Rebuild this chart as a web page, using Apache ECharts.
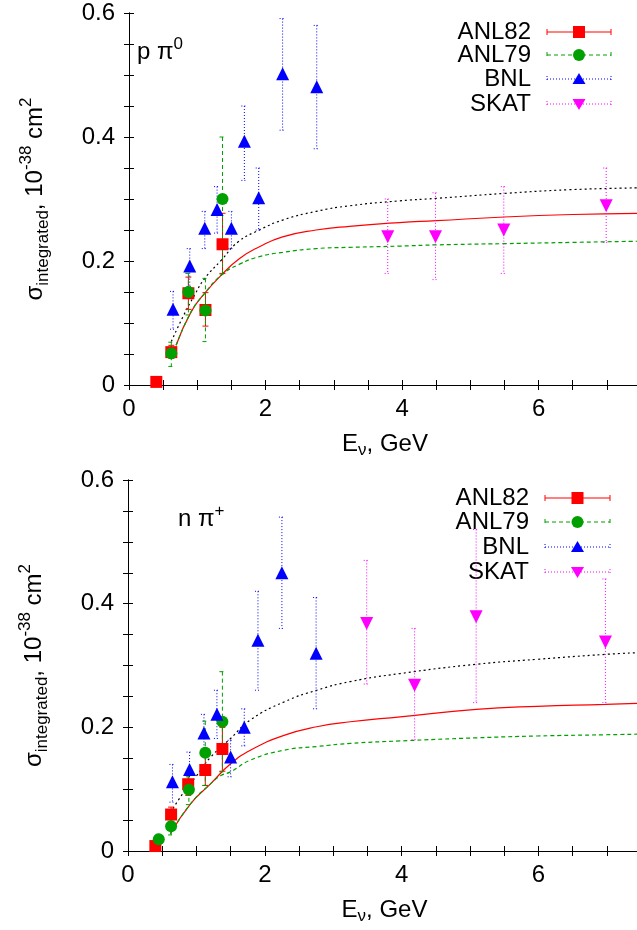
<!DOCTYPE html>
<html>
<head>
<meta charset="utf-8">
<script src="https://cdn.jsdelivr.net/npm/echarts@6/dist/echarts.min.js"></script>
<style>
html,body{margin:0;padding:0;background:#fff;}
#chart{width:637px;height:930px;}
</style>
</head>
<body>
<div id="chart"></div>
<script>
// ---------- DATA: [E (GeV), sigma, sigma_low, sigma_high] ----------
// Upper panel: p pi0
const pANL82 = [[0.40,0.005,0.002,0.008],[0.62,0.053,0.043,0.064],[0.87,0.148,0.122,0.174],[1.12,0.121,0.095,0.149],[1.37,0.227,0.180,0.277]];
const pANL79 = [[0.62,0.051,0.030,0.069],[0.87,0.150,0.113,0.180],[1.12,0.120,0.070,0.172],[1.37,0.300,0.179,0.400]];
const pBNL   = [[0.645,0.122,0.090,0.151],[0.89,0.192,0.159,0.220],[1.11,0.253,0.220,0.280],[1.29,0.283,0.245,0.320],[1.50,0.253,0.220,0.280],[1.69,0.393,0.330,0.450],[1.90,0.302,0.250,0.350],[2.25,0.502,0.411,0.591],[2.75,0.481,0.381,0.580]];
const pSKAT  = [[3.79,0.239,0.18,0.30],[4.49,0.239,0.17,0.31],[5.49,0.250,0.18,0.32],[6.99,0.289,0.23,0.35]];
const pCurveBlack = [[0.62,0.070],[0.79,0.110],[0.96,0.145],[1.11,0.172],[1.35,0.201],[1.60,0.231],[1.91,0.250],[2.25,0.266],[2.74,0.280],[3.23,0.289],[3.96,0.297],[4.5,0.301],[5.5,0.309],[6.45,0.315],[7.5,0.318]];
const pCurveRed   = [[0.69,0.064],[0.91,0.118],[1.11,0.148],[1.35,0.177],[1.62,0.204],[1.91,0.223],[2.25,0.239],[2.74,0.250],[3.23,0.256],[3.96,0.262],[4.5,0.265],[5.5,0.271],[6.5,0.275],[7.5,0.277]];
const pCurveGreen = [[0.69,0.064],[0.91,0.118],[1.11,0.148],[1.35,0.177],[1.62,0.195],[1.91,0.207],[2.25,0.214],[2.74,0.220],[3.23,0.222],[3.96,0.224],[4.5,0.226],[5.5,0.228],[6.5,0.230],[7.5,0.232]];

// Lower panel: n pi+
const nANL82 = [[0.40,0.008,0.003,0.013],[0.63,0.059,0.048,0.071],[0.88,0.108,0.090,0.125],[1.13,0.131,0.106,0.159],[1.38,0.165,0.129,0.200]];
const nANL79 = [[0.45,0.019,0.012,0.027],[0.63,0.040,0.026,0.055],[0.89,0.099,0.075,0.120],[1.13,0.159,0.106,0.210],[1.38,0.209,0.128,0.290]];
const nBNL   = [[0.65,0.112,0.079,0.140],[0.90,0.132,0.101,0.160],[1.11,0.191,0.160,0.221],[1.30,0.221,0.182,0.260],[1.50,0.152,0.120,0.179],[1.70,0.200,0.170,0.230],[1.90,0.341,0.260,0.420],[2.25,0.450,0.360,0.540],[2.75,0.320,0.230,0.410]];
const nSKAT  = [[3.49,0.368,0.27,0.47],[4.19,0.268,0.18,0.36],[5.09,0.379,0.24,0.52],[6.98,0.338,0.24,0.44]];
const nCurveBlack = [[0.62,0.062],[0.82,0.096],[0.99,0.120],[1.21,0.152],[1.50,0.182],[1.79,0.212],[2.28,0.241],[2.76,0.260],[3.25,0.274],[3.98,0.287],[5.09,0.302],[5.98,0.310],[6.98,0.318],[7.5,0.321]];
const nCurveRed   = [[0.62,0.028],[0.92,0.077],[1.21,0.109],[1.50,0.141],[1.79,0.163],[2.28,0.187],[2.76,0.201],[3.25,0.209],[3.98,0.217],[5.09,0.229],[5.98,0.234],[6.98,0.237],[7.5,0.239]];
const nCurveGreen = [[0.62,0.028],[0.92,0.077],[1.21,0.109],[1.36,0.122],[1.50,0.128],[1.79,0.147],[2.28,0.163],[2.76,0.169],[3.25,0.174],[3.98,0.178],[5.09,0.183],[5.98,0.186],[6.98,0.188],[7.5,0.189]];

const legendNames = ['ANL82','ANL79','BNL','SKAT'];
const xTickLabels = ['0','2','4','6'];
const yTickLabels = ['0','0.2','0.4','0.6'];

// ---------- STYLE ----------
const FONT = 'Liberation Sans, Arial, Helvetica, sans-serif';
const C = {red:'#ff0000', green:'#00a000', blue:'#0000ff', magenta:'#ff00ff', black:'#000000'};
const DASH = {ANL82:null, ANL79:[4,3], BNL:[1,2], SKAT:[1,2]};

const chart = echarts.init(document.getElementById('chart'), null, {renderer:'canvas'});

function xFmt(v){ const k=v/2; if(Math.abs(k-Math.round(k))<1e-6){ const s=String(Math.round(v)); return xTickLabels.indexOf(s)>=0?s:''; } return ''; }
function yFmt(v){ const k=v/0.2; if(Math.abs(k-Math.round(k))<1e-6){ const s = Math.round(k)===0?'0':(Math.round(k)*0.2).toFixed(1); return yTickLabels.indexOf(s)>=0?s:''; } return ''; }

const axisLine = {show:true, lineStyle:{color:'#000', width:1}};
const tick = {show:true, inside:true, length:5, lineStyle:{color:'#000', width:1}};

function xAxes(grid){
  return [
    {gridIndex:grid, type:'value', min:0, max:7.5, interval:0.5, position:'bottom',
     axisLine:axisLine, axisTick:tick, splitLine:{show:false},
     axisLabel:{formatter:xFmt, color:'#000', fontSize:24, fontFamily:FONT, margin:12, showMaxLabel:false},
     name:'{m|E}{s|ν}{m|, GeV}', nameLocation:'middle', nameGap:44,
     nameTextStyle:{rich:{
       m:{fontSize:24, fontFamily:FONT, color:'#000', lineHeight:30, verticalAlign:'middle'},
       s:{fontSize:17, fontFamily:FONT, color:'#000', lineHeight:17, verticalAlign:'bottom'}}}},
    {gridIndex:grid, type:'value', min:0, max:7.5, interval:0.5, position:'top',
     axisLine:axisLine, axisTick:tick, axisLabel:{show:false}, splitLine:{show:false}}
  ];
}
function yAxes(grid){
  return [
    {gridIndex:grid, type:'value', min:0, max:0.6, interval:0.05, position:'left',
     axisLine:axisLine, axisTick:tick, splitLine:{show:false},
     axisLabel:{formatter:yFmt, color:'#000', fontSize:24, fontFamily:FONT, margin:14},
     name:'{m|σ}{s|integrated}{m|, 10}{p|-38}{m| cm}{p|2}', nameLocation:'middle', nameGap:77, nameRotate:90,
     nameTextStyle:{rich:{
       m:{fontSize:24, fontFamily:FONT, color:'#000', lineHeight:34, verticalAlign:'middle'},
       s:{fontSize:17, fontFamily:FONT, color:'#000', lineHeight:17, verticalAlign:'bottom'},
       p:{fontSize:17, fontFamily:FONT, color:'#000', lineHeight:17, verticalAlign:'top'}}}},
    {gridIndex:grid, type:'value', min:0, max:0.6, interval:0.05, position:'right',
     axisLine:axisLine, axisTick:tick, axisLabel:{show:false}, splitLine:{show:false}}
  ];
}

function errSeries(data, color, dash, xi, yi){
  return {type:'custom', xAxisIndex:xi, yAxisIndex:yi, data:data, encode:{x:0,y:1}, silent:true, z:3,
    renderItem:function(params, api){
      const x=api.value(0), lo=api.value(2), hi=api.value(3);
      const a=api.coord([x,hi]), b=api.coord([x,lo]);
      const st={stroke:color, lineWidth:1, lineDash:dash||null, fill:null};
      return {type:'group', children:[
        {type:'line', shape:{x1:a[0],y1:a[1],x2:b[0],y2:b[1]}, style:st},
        {type:'line', shape:{x1:a[0]-3,y1:a[1],x2:a[0]+3,y2:a[1]}, style:st},
        {type:'line', shape:{x1:b[0]-3,y1:b[1],x2:b[0]+3,y2:b[1]}, style:st}
      ]};
    }};
}
function markSeries(data, color, symbol, size, rot, xi, yi, z){
  return {type:'scatter', xAxisIndex:xi, yAxisIndex:yi, data:data.map(d=>[d[0],d[1]]),
    symbol:symbol, symbolSize:size, symbolRotate:rot, itemStyle:{color:color, opacity:1}, z:z, silent:true};
}
function curveSeries(data, color, type, width, xi, yi){
  return {type:'line', xAxisIndex:xi, yAxisIndex:yi, data:data, showSymbol:false, symbol:'none',
    smooth:0.5, lineStyle:{color:color, width:width, type:type}, z:2, silent:true};
}
function panelSeries(d, xi, yi){
  return [
    curveSeries(d.black, C.black, [2,3], 1.2, xi, yi),
    curveSeries(d.red, C.red, 'solid', 1.2, xi, yi),
    curveSeries(d.green, C.green, [4,3], 1.2, xi, yi),
    errSeries(d.anl82, C.red, DASH.ANL82, xi, yi),
    errSeries(d.anl79, C.green, DASH.ANL79, xi, yi),
    errSeries(d.bnl, C.blue, DASH.BNL, xi, yi),
    errSeries(d.skat, C.magenta, DASH.SKAT, xi, yi),
    markSeries(d.anl82, C.red, 'rect', 12, 0, xi, yi, 4),
    markSeries(d.anl79, C.green, 'circle', 12, 0, xi, yi, 5),
    markSeries(d.bnl, C.blue, 'triangle', 13, 0, xi, yi, 6),
    markSeries(d.skat, C.magenta, 'triangle', 13, 180, xi, yi, 6)
  ];
}

// ---------- legend (graphic) ----------
function legendGraphics(rowsY, textRight, lineX1, lineX2){
  const cols=[C.red,C.green,C.blue,C.magenta];
  const out=[];
  const mx=(lineX1+lineX2)/2;
  legendNames.forEach((nm,i)=>{
    const y=rowsY[i];
    const st={stroke:cols[i], lineWidth:1, lineDash:DASH[nm]||null};
    out.push({type:'text', x:textRight, y:y, style:{text:nm, font:'24px '+FONT, fill:'#000',
      align:'right', textAlign:'right', verticalAlign:'middle', textVerticalAlign:'middle'}});
    out.push({type:'line', shape:{x1:lineX1,y1:y,x2:lineX2,y2:y}, style:st});
    out.push({type:'line', shape:{x1:lineX1,y1:y-3,x2:lineX1,y2:y+3}, style:st});
    out.push({type:'line', shape:{x1:lineX2,y1:y-3,x2:lineX2,y2:y+3}, style:st});
    let m;
    if(i===0) m={type:'rect', shape:{x:mx-6,y:y-6,width:12,height:12}, style:{fill:cols[i]}};
    else if(i===1) m={type:'circle', shape:{cx:mx,cy:y,r:6}, style:{fill:cols[i]}};
    else if(i===2) m={type:'polygon', shape:{points:[[mx,y-6],[mx+6.5,y+5],[mx-6.5,y+5]]}, style:{fill:cols[i]}};
    else m={type:'polygon', shape:{points:[[mx,y+6],[mx+6.5,y-5],[mx-6.5,y-5]]}, style:{fill:cols[i]}};
    out.push(m);
  });
  return out;
}
function panelLabel(x, y, base, sup){
  return {type:'text', x:x, y:y, style:{
    text:'{m|'+base+'}{p|'+sup+'}', fill:'#000',
    rich:{m:{fontSize:24, fontFamily:FONT, lineHeight:32, verticalAlign:'middle', fill:'#000', color:'#000'},
          p:{fontSize:17, fontFamily:FONT, lineHeight:17, verticalAlign:'top', fill:'#000', color:'#000'}}}};
}

const option = {
  backgroundColor:'#fff',
  animation:false,
  grid:[
    {left:129, top:13, right:-4, height:372, outerBoundsMode:'none', containLabel:false},
    {left:128, top:480, right:-4, height:371, outerBoundsMode:'none', containLabel:false}
  ],
  xAxis: xAxes(0).concat(xAxes(1)),
  yAxis: yAxes(0).concat(yAxes(1)),
  series: panelSeries({black:pCurveBlack, red:pCurveRed, green:pCurveGreen, anl82:pANL82, anl79:pANL79, bnl:pBNL, skat:pSKAT}, 0, 0)
    .concat(panelSeries({black:nCurveBlack, red:nCurveRed, green:nCurveGreen, anl82:nANL82, anl79:nANL79, bnl:nBNL, skat:nSKAT}, 2, 2)),
  graphic: [].concat(
    legendGraphics([32,55,79,104], 531, 547, 611),
    legendGraphics([498,522,547,572], 529, 545, 610),
    [panelLabel(137, 36, 'p π', '0'), panelLabel(178, 503, 'n π', '+')]
  )
};
chart.setOption(option);
</script>
</body>
</html>
